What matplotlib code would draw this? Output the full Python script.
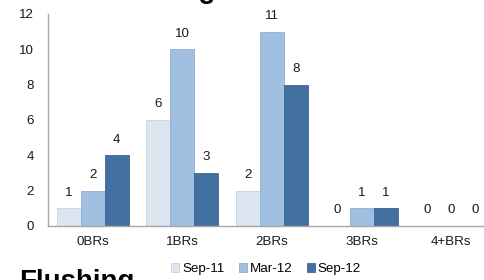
import matplotlib
matplotlib.use("Agg")
import matplotlib.pyplot as plt
import numpy as np

categories = ["0BRs", "1BRs", "2BRs", "3BRs", "4+BRs"]
series_names = ["Sep-11", "Mar-12", "Sep-12"]
sep11 = [1, 6, 2, 0, 0]
mar12 = [2, 10, 11, 1, 0]
sep12 = [4, 3, 8, 1, 0]
yticks = [0, 2, 4, 6, 8, 10, 12]

colors = ["#dce6f1", "#a0bfe1", "#4271a1"]
edges = ["#c8d4e2", "#8eaed3", "#3a6594"]

plt.rcParams['font.family'] = ['Liberation Sans', 'DejaVu Sans']

W, H = 485, 280
fig = plt.figure(figsize=(W / 100, H / 100), dpi=100)
ax = fig.add_axes([48 / W, 54 / H, 448 / W, 212 / H])

x = np.arange(len(categories))
bw = 0.268
for i, (vals, name) in enumerate(zip([sep11, mar12, sep12], series_names)):
    pos = x + (i - 1) * bw
    ax.bar(pos, vals, width=bw, color=colors[i], edgecolor=edges[i],
           linewidth=0.6, label=name)
    for p, v in zip(pos, vals):
        ax.annotate(str(v), (p, v), xytext=(0, 7), textcoords="offset points",
                    ha="center", va="bottom", fontsize=9.6, color="#1a1a1a")

ax.set_xlim(-0.5, 4.5)
ax.set_ylim(0, 12)
ax.set_yticks(yticks)
ax.set_xticks(x)
ax.set_xticklabels(categories)
ax.tick_params(axis="both", length=0, labelsize=9.6, colors="#1a1a1a")
ax.tick_params(axis="y", pad=10)
ax.tick_params(axis="x", pad=7)
for s in ["top", "right"]:
    ax.spines[s].set_visible(False)
for s in ["left", "bottom"]:
    ax.spines[s].set_color("#a6a6a6")
    ax.spines[s].set_linewidth(1.0)

fig.legend(loc="center", bbox_to_anchor=(266 / W, 1 - 269 / H), ncol=3,
           frameon=False, fontsize=9.6, handlelength=0.6, handleheight=0.6,
           handletextpad=0.2, columnspacing=1.1, borderaxespad=0)

fig.text(44 / W, 1 + 2 / H, "Products Signed", fontsize=20, fontweight="bold",
         ha="left", va="baseline")
fig.text(19 / W, 1 - 289 / H, "Flushing", fontsize=20, fontweight="bold",
         ha="left", va="baseline")

fig.savefig("out.png", dpi=100)
